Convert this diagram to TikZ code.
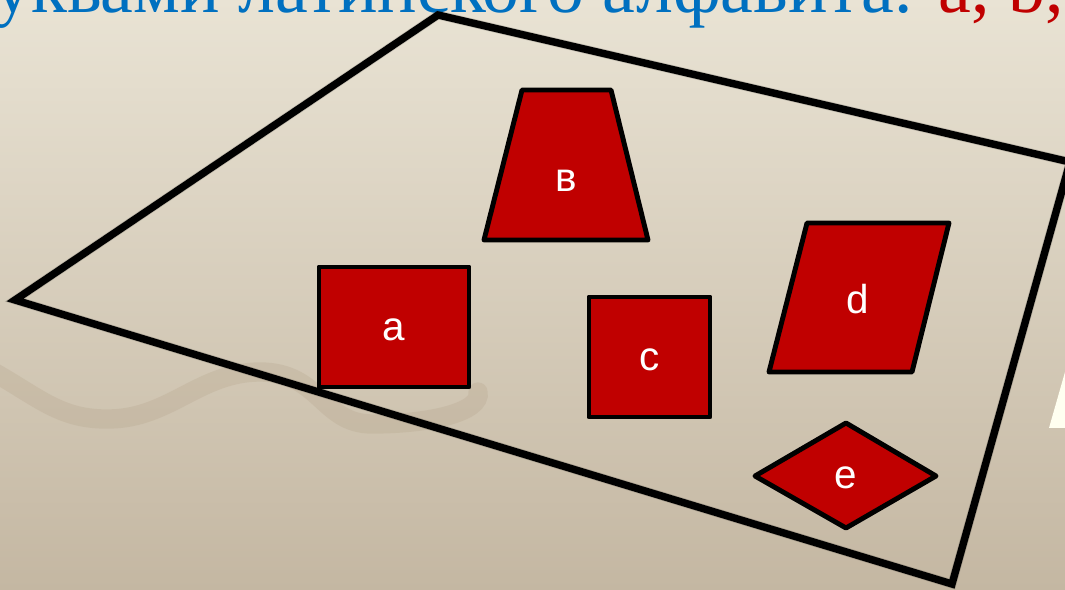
\documentclass[tikz,border=0pt]{standalone}
\usepackage{fontspec}
\setmainfont{Liberation Serif}
\newfontfamily\labelfont{Liberation Sans}
\usetikzlibrary{calc}

\definecolor{titleblue}{HTML}{0070C0}
\definecolor{figred}{HTML}{C00000}
\definecolor{bgtop}{RGB}{233,227,212}
\definecolor{bgbottom}{RGB}{196,183,162}
\definecolor{wavecol}{RGB}{178,160,135}
\definecolor{ivory}{RGB}{255,255,240}

\begin{document}
\begin{tikzpicture}[
                x=0.02cm, y=-0.02cm, % 1 unit = 1 px
                plane/.style={draw=black, line width=4.2pt, line join=miter},
                figure/.style={draw=black, fill=figred, line width=2.8pt, line join=round},
                letter/.style={text=white, font=\labelfont\fontsize{23}{27}\selectfont},
                shadowline/.style={draw=black, opacity=0.15, line width=5pt, shift={(2,4)}}
            ]
                % --- фон ---
                \useasboundingbox (0,0) rectangle (1065,590);
                \clip (0,0) rectangle (1065,590);
                \shade[top color=bgtop, bottom color=bgbottom] (0,0) rectangle (1065,590);

                % --- волна ---
                \draw[wavecol, opacity=0.25, line width=11pt, line cap=round]
                    (-10,370) .. controls (40,398) and (60,420) .. (110,419)
                    .. controls (170,418) and (200,372) .. (260,372)
                    .. controls (320,372) and (322,424) .. (372,424)
                    .. controls (430,424) and (482,412) .. (478,392);

                % --- заголовок ---
                \node[anchor=base west, font=\fontsize{42}{50}\selectfont, text=titleblue, inner sep=0pt]
                    (title) at (-6,13) {уквами латинского алфавита: \textcolor{figred}{a, b,}};

                % --- плоскость ---
                \coordinate (L) at (15,300);
                \coordinate (T) at (438,15);
                \coordinate (R) at (1070,162);
                \coordinate (B) at (952,584);
                \draw[shadowline] (L) -- (T) -- (R) -- (B) -- cycle;
                \draw[plane] (L) -- (T) -- (R) -- (B) -- cycle;

                % --- фигуры ---
                \draw[figure] (522,90) -- (611,90) -- (648,240) -- (484,240) -- cycle;
                \draw[figure] (319,267) rectangle (469,387);
                \draw[figure] (589,297) rectangle (710,417);
                \draw[figure] (807,223) -- (949,223) -- (912,372) -- (769,372) -- cycle;
                \draw[figure] (846,423) -- (936,476) -- (846,528) -- (755,476) -- cycle;

                % --- буквы ---
                \node[letter] (lb) at (566,181) {в};
                \node[letter] (la) at (394,330) {a};
                \node[letter] (lc) at (650,360) {c};
                \node[letter] (ld) at (858,299) {d};
                \node[letter] (le) at (846,478) {e};

                % --- край справа ---
                \fill[ivory] (1065,372) -- (1049,428) -- (1065,428) -- cycle;

            \end{tikzpicture}
\end{document}
